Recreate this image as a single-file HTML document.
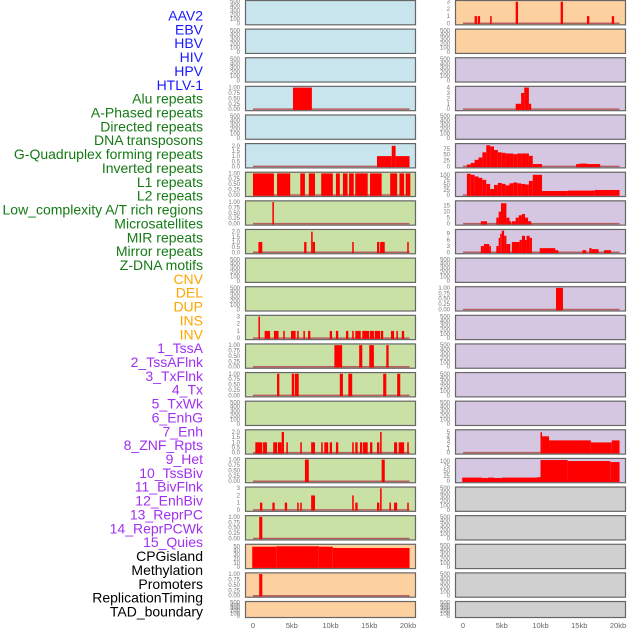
<!DOCTYPE html>
<html><head><meta charset="utf-8"><style>
html,body{margin:0;padding:0;background:#fff;}
svg{display:block;font-family:"Liberation Sans",sans-serif;}
</style></head><body>
<svg id="chart" width="630" height="630" viewBox="0 0 630 630" xmlns="http://www.w3.org/2000/svg"></svg>
<script>
// ---- data ----
const trackLabels = ["AAV2","EBV","HBV","HIV","HPV","HTLV-1","Alu repeats","A-Phased repeats","Directed repeats","DNA transposons","G-Quadruplex forming repeats","Inverted repeats","L1 repeats","L2 repeats","Low_complexity A/T rich regions","Microsatellites","MIR repeats","Mirror repeats","Z-DNA motifs","CNV","DEL","DUP","INS","INV","1_TssA","2_TssAFlnk","3_TxFlnk","4_Tx","5_TxWk","6_EnhG","7_Enh","8_ZNF_Rpts","9_Het","10_TssBiv","11_BivFlnk","12_EnhBiv","13_ReprPC","14_ReprPCWk","15_Quies","CPGisland","Methylation","Promoters","ReplicationTiming","TAD_boundary"];
const labelGroups = ["virus","virus","virus","virus","virus","virus","repeat","repeat","repeat","repeat","repeat","repeat","repeat","repeat","repeat","repeat","repeat","repeat","repeat","sv","sv","sv","sv","sv","state","state","state","state","state","state","state","state","state","state","state","state","state","state","state","other","other","other","other","other"];
const xTicks = [0,5,10,15,20];
const xTickLabels = ["0","5kb","10kb","15kb","20kb"];
const leftBg = ["blue","blue","blue","blue","blue","blue","green","green","green","green","green","green","green","green","green","green","green","green","green","orange","orange","orange"];
const rightBg = ["orange","orange","purple","purple","purple","purple","purple","purple","purple","purple","purple","purple","purple","purple","purple","purple","purple","grey","grey","grey","grey","grey"];
const emptyTicks = [0,100,200,300,400,500];
const unitTicks = [0,0.25,0.5,0.75,1];
const twoTicks = [0,0.5,1,1.5,2];
const threeTicks = [0,1,2,3];
const fourTicks = [0,1,2,3,4];
const fiftyTicks = [0,10,20,30,40,50];
const r5Ticks = [0,25,50,75];
const hundredTicks = [0,25,50,75,100];
const r7Ticks = [0,5,10,15];
const r8Ticks = [0,3,6,9];
const fiveTicks = [0,1,2,3,4,5];
const leftMax = [500,500,500,1,500,2.1,1,1,2.1,500,500,3,1,1,500,2.1,1,3,1,52,1,500];
const rightMax = [3,500,500,4,500,92,107,18,10.5,500,1,500,500,500,500,5.3,107,500,500,500,500,500];
const L3 = [[5.16,7.6,1]];
const L5 = [[16.0,17.9,1],[17.9,18.4,2],[18.4,20.2,1]];
const L6 = [[0,2.7,1],[3.1,4.8,1],[6.1,6.7,1],[7.2,8.0,1],[8.8,10.3,1],[10.7,11.2,1],[11.6,12.2,1],[12.4,13.0,1],[13.2,14.8,1],[15.1,16.6,1],[17.7,18.6,1],[18.9,19.5,1],[19.7,20.3,1]];
const L7 = [[2.5,2.7,1]];
const L8 = [[0.7,1.2,1],[6.6,6.9,1],[7.5,7.7,2],[7.7,8.0,1],[12.8,13.0,1],[16.0,16.3,1],[16.4,17.0,1],[19.9,20.1,1]];
const L11 = [[0.7,0.9,3],[1.5,2.2,1],[2.7,3.3,1],[3.9,4.1,1],[4.9,5.5,1],[5.7,5.9,1],[6.5,6.7,1],[7.1,7.4,1],[9.9,10.2,1],[10.7,11.0,1],[12.0,12.3,1],[12.8,13.0,1],[13.2,13.9,1],[14.1,15.0,1],[15.1,15.6,1],[15.7,16.4,1],[16.5,16.8,1],[17.8,18.2,1],[18.5,18.7,1],[19.2,19.5,1]];
const L12 = [[10.5,11.5,1],[13.7,14.1,1],[15.0,15.6,1],[17.2,17.5,1]];
const L13 = [[3.1,3.4,1],[5.0,5.3,1],[5.4,5.9,1],[11.2,11.6,1],[12.3,12.8,1],[16.8,17.2,1],[18.6,19.0,1]];
const L15 = [[0.3,1.2,1],[1.3,1.8,1],[2.6,3.1,1],[3.2,3.7,1],[3.7,4.0,2],[4.3,4.5,1],[6.1,6.3,1],[7.5,8.0,1],[8.8,9.0,1],[9.2,9.7,1],[9.9,10.2,1],[10.7,11.0,1],[12.8,13.0,1],[13.2,13.5,1],[13.8,14.1,1],[14.2,14.8,1],[15.1,15.4,1],[16.0,16.3,1],[16.4,16.6,2],[18.2,18.6,1],[18.8,19.5,1],[19.9,20.1,1]];
const L16 = [[6.7,7.2,1],[16.6,17.0,1]];
const L17 = [[0.9,1.2,1],[2.5,2.8,1],[4.1,4.4,1],[5.7,5.9,1],[6.1,6.3,1],[7.5,8.0,2],[12.8,13.0,2],[13.2,13.5,1],[16.0,16.3,1],[16.4,16.6,3],[17.6,17.8,1],[18.2,18.6,1],[19.9,20.1,1]];
const L18 = [[0.8,1.2,1]];
const L19 = [[-0.1,3.0,49],[3.0,8.5,50],[8.5,10.3,49],[10.3,20.2,46]];
const L20 = [[0.8,1.2,1]];
const R0 = [[1.5,1.8,1],[1.9,2.2,1],[3.5,3.7,1],[6.8,7.1,3],[12.6,12.9,3],[16.0,16.3,1],[19.2,19.5,1]];
const R3 = [[6.8,7.5,1],[7.5,7.9,3],[7.9,8.5,4],[8.5,8.8,1]];
const R5 = [[0.5,1.0,8],[1.0,1.5,15],[1.5,2.0,28],[2.0,2.5,38],[2.5,3.0,60],[3.0,3.5,90],[3.5,4.0,85],[4.0,4.5,70],[4.5,5.0,60],[5.0,5.5,58],[5.5,6.0,55],[6.0,6.5,55],[6.5,7.0,52],[7.0,7.5,55],[7.5,8.0,55],[8.0,8.5,55],[8.5,9.0,45],[9.0,10.2,10],[14.6,15.0,10],[15.0,16.0,12],[16.0,17.7,10]];
const R6 = [[0.5,1.0,105],[1.0,1.5,100],[1.5,2.0,92],[2.0,2.5,85],[2.5,3.0,75],[3.0,3.5,55],[3.5,4.0,30],[4.0,4.5,50],[4.5,5.0,60],[5.0,5.5,55],[5.5,6.0,48],[6.0,6.5,58],[6.5,7.0,62],[7.0,7.5,58],[7.5,8.0,55],[8.0,8.5,52],[8.5,9.0,70],[9.0,10.2,100],[10.2,13.5,20],[13.5,17.0,22],[17.0,20.2,25]];
const R7 = [[2.3,3.1,2],[4.3,4.6,5],[4.6,4.9,10],[4.9,5.6,17],[5.6,6.0,5],[6.0,6.2,2],[6.3,6.8,2],[6.8,7.2,5],[7.2,7.6,7],[7.6,8.0,8],[8.0,8.4,5],[8.4,8.8,2]];
const R8 = [[2.3,2.7,3],[2.7,3.4,4],[3.4,3.6,3],[4.3,4.6,3],[4.6,4.8,7],[4.8,5.0,9],[5.0,5.3,10.5],[5.3,5.6,8],[5.6,6.1,4],[6.3,7.3,5],[7.3,7.6,6],[7.6,8.0,8],[8.0,8.2,6],[8.2,8.6,8],[8.6,8.9,7],[9.9,11.9,2],[11.9,12.3,1],[15.4,15.9,1],[16.3,16.6,2],[16.6,17.5,1.5],[18.2,19.1,1]];
const R10 = [[12.0,12.9,1]];
const R15 = [[10.0,10.2,5],[10.2,11.1,4],[11.1,16.5,3],[16.5,19.2,2.5],[19.2,20.2,3]];
const R16 = [[-0.1,2.5,18],[2.5,3.2,16],[3.2,4.0,18],[4.0,5.0,16],[5.0,9.5,18],[9.5,10.0,20],[10.0,13.5,105],[13.5,19.0,100],[19.0,20.2,95]];
const leftSegs = [[],[],[],L3,[],L5,L6,L7,L8,[],[],L11,L12,L13,[],L15,L16,L17,L18,L19,L20,[]];
const rightSegs = [R0,[],[],R3,[],R5,R6,R7,R8,[],R10,[],[],[],[],R15,R16,[],[],[],[],[]];
const leftTicks = [emptyTicks,emptyTicks,emptyTicks,unitTicks,emptyTicks,twoTicks,unitTicks,unitTicks,twoTicks,emptyTicks,emptyTicks,threeTicks,unitTicks,unitTicks,emptyTicks,twoTicks,unitTicks,threeTicks,unitTicks,fiftyTicks,unitTicks,emptyTicks];
const rightTicks = [threeTicks,emptyTicks,emptyTicks,fourTicks,emptyTicks,r5Ticks,hundredTicks,r7Ticks,r8Ticks,emptyTicks,unitTicks,emptyTicks,emptyTicks,emptyTicks,emptyTicks,fiveTicks,hundredTicks,emptyTicks,emptyTicks,emptyTicks,emptyTicks,emptyTicks];

// ---- rendering ----
const NS = "http://www.w3.org/2000/svg";
const svg = document.getElementById("chart");
const bgColors = {blue:"#c8e4ec",green:"#c9e1a5",orange:"#fdd09f",purple:"#d5c6e2",grey:"#d0d0d0"};
const labelColors = {virus:"#1a1aff",repeat:"#157a15",sv:"#ffa500",state:"#a030f0",other:"#000000"};
function mk(tag, attrs, parent){const e=document.createElementNS(NS,tag);for(const k in attrs)e.setAttribute(k,attrs[k]);(parent||svg).appendChild(e);return e;}
const PITCH = 28.62;
function panelTop(i){return 0.5+i*PITCH;}
function panelH(i){return i===21?16:24.3;}
function xScale(col,kb){return (col===0?253:463)+kb*7.75;}
function fmtTick(t,ticks){const mx=ticks[ticks.length-1];if(mx===1)return t.toFixed(2);if(mx===2)return t.toFixed(1);return String(t);}

trackLabels.forEach((lab,i)=>{
  const t = mk("text",{x:203,y:20.5+i*13.86,"text-anchor":"end","font-size":"14",fill:labelColors[labelGroups[i]]});
  t.textContent = lab;
  
  
});

function drawColumn(col, bgs, segsList, ticksList, maxList){
  const x0 = col===0?245:455, w = 171;
  for(let i=0;i<22;i++){
    const top=panelTop(i), h=panelH(i);
    const g = mk("g",{});
    
    
    const bg = mk("rect",{x:x0,y:top,width:w,height:h,fill:bgColors[bgs[i]]},g);
    
    
    const y0 = top+h-1.5, yT = top+1.2, ymax = maxList[i];
    const ys = v => y0-(v/ymax)*(y0-yT);
    const segs = segsList[i];
    if(segs.length){
      const base = mk("line",{x1:xScale(col,0),x2:xScale(col,20.2),y1:y0,y2:y0,stroke:"#b86060","stroke-width":1.5},g);
      
      
    }
    segs.forEach(s=>{
      const xa=xScale(col,s[0]), xb=xScale(col,s[1]);
      const r = mk("rect",{x:xa,y:ys(s[2]),width:Math.max(1.2,xb-xa),height:y0-ys(s[2])+0.8,fill:"#ff0000"},g);
      
      
    });
    const fr = mk("rect",{x:x0+0.5,y:top,width:w-1,height:h,fill:"none",stroke:"#666","stroke-width":1.2},g);
    
    
    ticksList[i].forEach(t=>{
      const tx = mk("text",{x:x0-5,y:ys(t)+2,"text-anchor":"end","font-size":"6",fill:"#777"},g);
      tx.textContent = fmtTick(t,ticksList[i]);
      
      
    });
  }
  xTicks.forEach((k,j)=>{
    const tx = mk("text",{x:xScale(col,k),y:628,"text-anchor":"middle","font-size":"7.5",fill:"#666"});
    tx.textContent = xTickLabels[j];
    
    
  });
}
drawColumn(0,leftBg,leftSegs,leftTicks,leftMax);
drawColumn(1,rightBg,rightSegs,rightTicks,rightMax);
</script>
</body></html>
